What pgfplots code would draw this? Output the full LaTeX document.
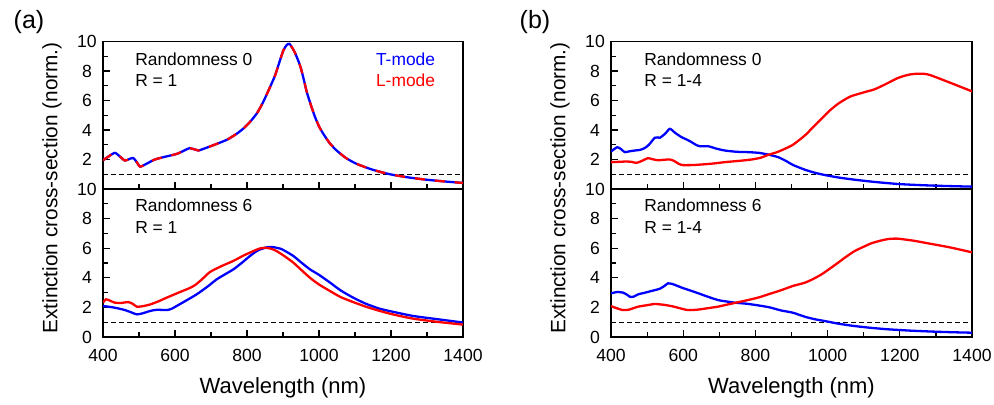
\documentclass[border=0pt]{standalone}
\usepackage{pgfplots}
\pgfplotsset{compat=1.18}
\usepackage{fontspec}
\setmainfont{Liberation Sans}
\definecolor{cB}{RGB}{0,0,255}
\definecolor{cR}{RGB}{255,0,0}
\pgfplotsset{
  myax/.style={
    scale only axis, width=180pt,
    xmin=400, xmax=1400, ymin=0, ymax=10,
    xtick={400,600,...,1400}, minor xtick={500,700,...,1300},
    ytick={0,2,...,10}, minor ytick={1,3,...,9},
    tick align=inside, xtick pos=bottom, ytick pos=left,
    major tick length=3.5pt, minor tick length=2.5pt,
    axis line style={line width=0.8pt},
    every tick/.style={black, line width=0.6pt},
    /pgf/number format/assume math mode=true,
    /pgf/number format/1000 sep={},
    tick label style={font=\fontsize{8.8}{10}\selectfont},
    yticklabel style={anchor=center, xshift=-8pt},
    xticklabel style={anchor=center, yshift=-9pt},
    clip=true,
  },
  cT/.style={cB, line width=1.15pt, smooth, tension=0.4, no marks},
  cL/.style={cR, line width=1.15pt, smooth, tension=0.4, no marks},
  ref/.style={black, line width=0.6pt, dash pattern=on 2.4pt off 1.6pt, no marks},
}
\newcommand{\ann}{\fontsize{8.7}{10}\selectfont}
\begin{document}
\begin{tikzpicture}
\useasboundingbox (0,0) rectangle (497pt,202pt);
% ---------------- panel (a) upper
\begin{axis}[myax, at={(51.5pt,107.5pt)}, anchor=south west, height=73.75pt, xticklabels={}, yticklabels={,2,4,6,8,10}]
\addplot[ref] coordinates {(400,1) (1400,1)};
\addplot[cT] coordinates {
(400,1.95)(415,2.2)(433,2.45)(447,2.2)(461,1.93)(475,2.05)(484,2.1)(493,1.85)(503,1.52)(520,1.7)(544,2.0)(575,2.2)(605,2.38)(625,2.6)(640,2.77)(655,2.68)(665,2.61)(690,2.82)(716,3.06)(745,3.35)(771,3.74)(790,4.1)(808,4.54)(828,5.15)(845,5.9)(862,6.8)(878,7.7)(890,8.6)(901,9.4)(910,9.75)(918,9.84)(932,9.3)(947,8.4)(957,7.5)(966,6.58)(978,5.65)(989,4.88)(1000,4.25)(1012,3.74)(1030,3.1)(1049,2.61)(1075,2.1)(1105,1.7)(1150,1.3)(1197,1.0)(1250,0.78)(1299,0.63)(1350,0.51)(1400,0.41)};
\addplot[cL, dash pattern=on 5pt off 5pt] coordinates {
(400,1.95)(415,2.2)(433,2.45)(447,2.2)(461,1.93)(475,2.05)(484,2.1)(493,1.85)(503,1.52)(520,1.7)(544,2.0)(575,2.2)(605,2.38)(625,2.6)(640,2.77)(655,2.68)(665,2.61)(690,2.82)(716,3.06)(745,3.35)(771,3.74)(790,4.1)(808,4.54)(828,5.15)(845,5.9)(862,6.8)(878,7.7)(890,8.6)(901,9.4)(910,9.75)(918,9.84)(932,9.3)(947,8.4)(957,7.5)(966,6.58)(978,5.65)(989,4.88)(1000,4.25)(1012,3.74)(1030,3.1)(1049,2.61)(1075,2.1)(1105,1.7)(1150,1.3)(1197,1.0)(1250,0.78)(1299,0.63)(1350,0.51)(1400,0.41)};
\node[anchor=base west, font=\ann] at (rel axis cs:0.07,0.839) {Randomness 0};
\node[anchor=base west, font=\ann] at (rel axis cs:0.07,0.692) {R = 1};
\node[anchor=base east, font=\ann, text=cB] at (rel axis cs:0.942,0.839) {T-mode};
\node[anchor=base east, font=\ann, text=cR] at (rel axis cs:0.942,0.695) {L-mode};
\end{axis}
% ---------------- panel (a) lower
\begin{axis}[myax, at={(51.5pt,33.5pt)}, anchor=south west, height=74pt]
\addplot[ref] coordinates {(400,1) (1400,1)};
\addplot[cT] coordinates {
(400,2.1)(433,1.98)(461,1.82)(480,1.65)(494,1.53)(510,1.6)(531,1.76)(550,1.84)(577,1.82)(590,1.9)(605,2.1)(630,2.45)(660,2.88)(690,3.4)(716,3.9)(740,4.25)(762,4.57)(785,5.0)(808,5.47)(830,5.85)(855,6.06)(870,6.08)(882,6.03)(895,5.95)(906,5.81)(929,5.47)(950,5.05)(975,4.57)(1000,4.2)(1031,3.67)(1060,3.15)(1095,2.66)(1130,2.25)(1169,1.91)(1210,1.68)(1262,1.42)(1330,1.2)(1400,0.98)};
\addplot[cL] coordinates {
(400,2.32)(408,2.55)(420,2.45)(433,2.32)(450,2.3)(470,2.36)(482,2.25)(494,2.05)(510,2.08)(531,2.2)(555,2.42)(577,2.66)(614,3.04)(640,3.3)(656,3.51)(675,3.9)(697,4.39)(730,4.8)(762,5.14)(790,5.5)(818,5.81)(835,5.98)(850,6.03)(865,5.98)(882,5.81)(906,5.43)(929,5.02)(950,4.55)(975,4.0)(1000,3.55)(1031,3.1)(1060,2.7)(1095,2.36)(1130,2.05)(1169,1.76)(1210,1.5)(1262,1.24)(1330,1.02)(1400,0.84)};
\node[anchor=base west, font=\ann] at (rel axis cs:0.07,0.845) {Randomness 6};
\node[anchor=base west, font=\ann] at (rel axis cs:0.07,0.698) {R = 1};
\end{axis}
% ---------------- panel (b) upper
\begin{axis}[myax, at={(305.5pt,107.5pt)}, anchor=south west, width=180.5pt, height=73.75pt, xticklabels={}, yticklabels={,2,4,6,8,10}]
\addplot[ref] coordinates {(400,1) (1400,1)};
\addplot[cT] coordinates {
(400,2.54)(417,2.83)(428,2.7)(438,2.5)(452,2.56)(466,2.61)(480,2.65)(493,2.77)(505,3.0)(521,3.47)(528,3.5)(535,3.47)(550,3.75)(563,4.08)(578,3.8)(595,3.52)(610,3.35)(623,3.18)(635,3.0)(646,2.9)(669,2.9)(690,2.75)(715,2.61)(750,2.52)(780,2.5)(810,2.45)(826,2.38)(845,2.28)(863,2.16)(885,1.9)(904,1.63)(937,1.31)(965,1.1)(992,0.95)(1030,0.78)(1075,0.63)(1130,0.48)(1195,0.34)(1250,0.27)(1306,0.22)(1350,0.19)(1400,0.16)};
\addplot[cL] coordinates {
(400,1.82)(420,1.84)(438,1.86)(455,1.85)(470,1.77)(485,1.9)(502,2.09)(515,2.02)(530,1.95)(545,1.98)(563,2.0)(575,1.9)(588,1.7)(600,1.62)(632,1.63)(680,1.72)(715,1.82)(760,1.92)(789,2.0)(815,2.12)(835,2.31)(860,2.5)(881,2.72)(904,3.0)(937,3.63)(960,4.2)(983,4.76)(1005,5.3)(1029,5.78)(1050,6.1)(1066,6.3)(1100,6.55)(1130,6.76)(1160,7.1)(1195,7.53)(1225,7.75)(1250,7.82)(1270,7.8)(1287,7.7)(1340,7.2)(1400,6.62)};
\node[anchor=base west, font=\ann] at (rel axis cs:0.073,0.839) {Randomness 0};
\node[anchor=base west, font=\ann] at (rel axis cs:0.073,0.692) {R = 1-4};
\end{axis}
% ---------------- panel (b) lower
\begin{axis}[myax, at={(305.5pt,33.5pt)}, anchor=south west, width=180.5pt, height=74pt]
\addplot[ref] coordinates {(400,1) (1400,1)};
\addplot[cT] coordinates {
(400,2.95)(417,3.04)(433,3.0)(445,2.85)(452,2.72)(462,2.72)(475,2.88)(495,3.0)(512,3.11)(535,3.26)(548,3.45)(558,3.63)(567,3.6)(576,3.53)(600,3.3)(632,3.04)(665,2.75)(696,2.5)(720,2.4)(743,2.32)(775,2.25)(807,2.14)(840,2.0)(870,1.8)(904,1.64)(937,1.37)(965,1.2)(992,1.08)(1030,0.9)(1075,0.74)(1120,0.62)(1168,0.52)(1230,0.43)(1297,0.36)(1350,0.32)(1400,0.29)};
\addplot[cL] coordinates {
(400,2.09)(415,1.95)(433,1.82)(450,1.85)(475,2.05)(500,2.15)(521,2.23)(545,2.18)(567,2.09)(590,1.95)(613,1.82)(640,1.85)(669,1.95)(696,2.05)(720,2.18)(750,2.34)(780,2.5)(810,2.68)(835,2.88)(870,3.15)(904,3.45)(937,3.67)(960,3.92)(983,4.23)(1005,4.6)(1029,5.02)(1050,5.4)(1075,5.81)(1100,6.1)(1121,6.33)(1145,6.5)(1168,6.62)(1190,6.65)(1204,6.62)(1240,6.5)(1278,6.33)(1340,6.05)(1400,5.72)};
\node[anchor=base west, font=\ann] at (rel axis cs:0.073,0.845) {Randomness 6};
\node[anchor=base west, font=\ann] at (rel axis cs:0.073,0.698) {R = 1-4};
\end{axis}
% ---------------- labels
\node[font=\fontsize{12.5}{14}\selectfont] at (14.5pt,191pt) {(a)};
\node[font=\fontsize{12.5}{14}\selectfont] at (267.5pt,191pt) {(b)};
\node[rotate=90, font=\fontsize{10.4}{12}\selectfont] at (26pt,108pt) {Extinction cross-section (norm.)};
\node[rotate=90, font=\fontsize{10.4}{12}\selectfont] at (280pt,108pt) {Extinction cross-section (norm.)};
\node[font=\fontsize{11}{13}\selectfont] at (141.5pt,8pt) {Wavelength (nm)};
\node[font=\fontsize{11}{13}\selectfont] at (395.75pt,8pt) {Wavelength (nm)};
\end{tikzpicture}
\end{document}
